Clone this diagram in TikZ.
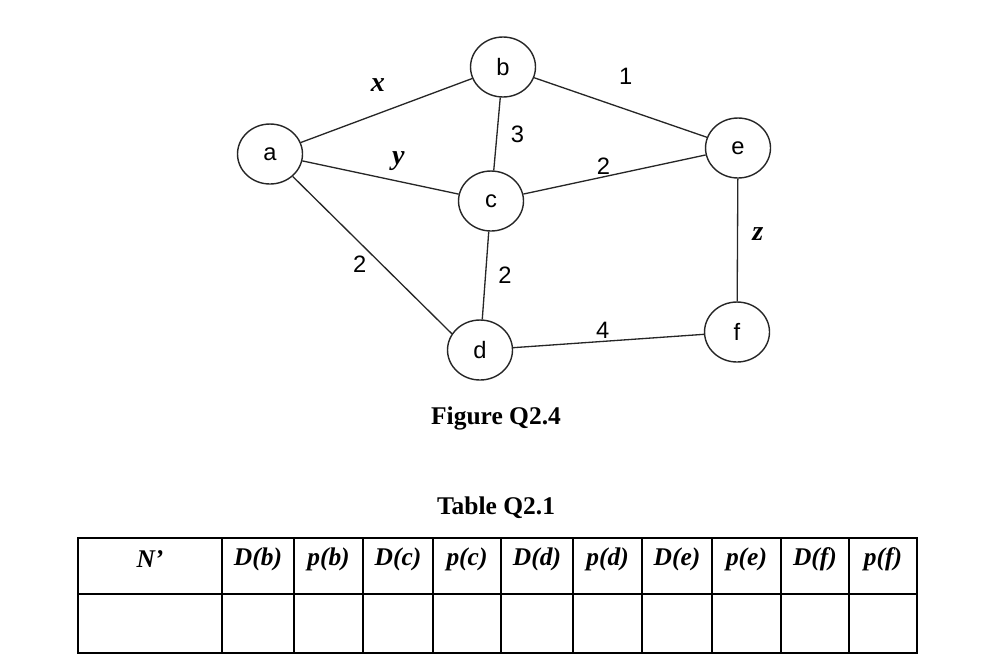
\documentclass[tikz,border=0pt]{standalone}
\usepackage{fontspec}
\setmainfont{Liberation Serif}
\setsansfont{Liberation Sans}
\usetikzlibrary{shapes.geometric}

\begin{document}
\begin{tikzpicture}[x=0.02cm,y=-0.02cm,
    vertex/.style={ellipse,draw=black!85,line width=0.8pt,minimum width=1.3cm,minimum height=1.2cm,inner sep=0pt,font=\sffamily\fontsize{13.5}{16}\selectfont},
    every edge/.style={draw=black!85,line width=0.75pt},
    wt/.style={font=\sffamily\fontsize{13.5}{16}\selectfont,inner sep=2pt},
    var/.style={font=\bfseries\itshape\fontsize{16}{18}\selectfont,inner sep=2pt},
    caption/.style={font=\bfseries\fontsize{14.5}{17}\selectfont},
    head/.style={font=\bfseries\itshape\fontsize{14.5}{17}\selectfont}]
    \useasboundingbox (0,0) rectangle (999,670);
    \node[vertex] (a) at (270,154) {a};
    \node[vertex] (b) at (503,67)  {b};
    \node[vertex] (c) at (491,201) {c};
    \node[vertex] (d) at (480,350) {d};
    \node[vertex] (e) at (738,148) {e};
    \node[vertex] (f) at (737,332) {f};
    \path
      (a) edge node [var,pos=0.45,above=10pt] {x} (b)
      (b) edge node [wt,pos=0.53,above=12pt] {1} (e)
      (b) edge node [wt,right=5.5pt] {3} (c)
      (a) edge node [var,pos=0.615,above=3.5pt] {y} (c)
      (c) edge node [wt,pos=0.44,above=-1pt] {2} (e)
      (a) edge node [wt,pos=0.56,left=6.5pt] {2} (d.150)
      (c) edge node [wt,right=5pt] {2} (d)
      (e) edge node [var,pos=0.45,right=6pt] {z} (f)
      (d) edge node [wt,pos=0.47,above=-1pt] {4} (f);
    \node[caption] (fig) at (496,418) {Figure Q2.4};
    \node[caption] (tab) at (496,508) {Table Q2.1};
    % table
    \draw[line width=1.5pt] (78,538) rectangle (917,653);
    \draw[line width=1.5pt] (78,594) -- (917,594);
    \foreach \x in {222,294,363,433,501,573,642,712,781,849}
      \draw[line width=1.5pt] (\x,538) -- (\x,653);
    \foreach \cx/\t in {150/N’,258/D(b),328.5/p(b),398/D(c),467/p(c),537/D(d),607.5/p(d),677/D(e),746.5/p(e),815/D(f),883/p(f)}
      \node[head] at (\cx,559) {\t};
\end{tikzpicture}
\end{document}
